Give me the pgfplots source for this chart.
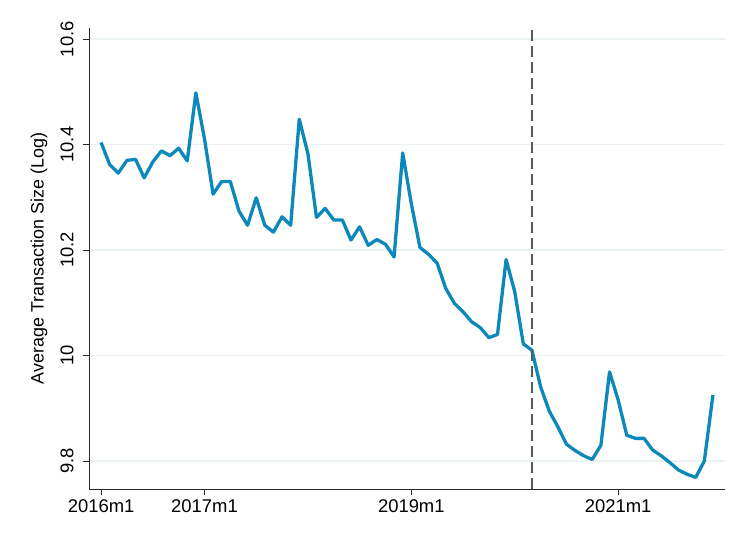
\documentclass[border=0pt]{standalone}
\usepackage{pgfplots}
\pgfplotsset{compat=1.18}
\usepackage{fontspec}
\setmainfont{Liberation Sans}
\definecolor{lineblue}{RGB}{12,136,186}
\definecolor{gridc}{RGB}{234,242,243}
\definecolor{axc}{RGB}{40,40,40}
\begin{document}
\begin{tikzpicture}
\begin{axis}[
  at={(0,0)}, anchor=south west,
  scale only axis,
  width=636bp, height=461bp,
  xmin=-1.4, xmax=72.4,
  ymin=9.747, ymax=10.621,
  axis x line*=bottom, axis y line*=left,
  axis line style={axc, line width=0.9bp, -},
  tick align=outside,
  major tick length=6bp,
  tick style={axc, line width=0.8bp},
  xtick={0,12,36,60},
  xticklabels={2016m1,2017m1,2019m1,2021m1},
  ytick={9.8,10,10.2,10.4,10.6},
  yticklabels={9.8,10,10.2,10.4,10.6},
  yticklabel style={rotate=90, anchor=south},
  yticklabel shift=6bp,
  xticklabel style={anchor=north, yshift=-1bp},
  ymajorgrids,
  grid style={gridc, line width=1.3bp},
  ticklabel style={font=\fontsize{18.5}{21}\selectfont, text=black},
  ylabel={Average Transaction Size (Log)},
  ylabel style={font=\fontsize{18}{21}\selectfont, at={(axis description cs:-0.0715,0.5)}, anchor=base, rotate=0},
  clip=false,
]
\addplot[lineblue, line width=3.3bp, line join=round] table {
x y
0 10.404
1 10.362
2 10.346
3 10.370
4 10.372
5 10.337
6 10.367
7 10.388
8 10.379
9 10.393
10 10.369
11 10.498
12 10.411
13 10.306
14 10.330
15 10.330
16 10.274
17 10.247
18 10.299
19 10.247
20 10.234
21 10.263
22 10.247
23 10.448
24 10.383
25 10.262
26 10.279
27 10.257
28 10.257
29 10.219
30 10.244
31 10.209
32 10.220
33 10.211
34 10.187
35 10.384
36 10.288
37 10.205
38 10.192
39 10.175
40 10.127
41 10.099
42 10.083
43 10.064
44 10.053
45 10.034
46 10.040
47 10.182
48 10.121
49 10.022
50 10.010
51 9.941
52 9.895
53 9.865
54 9.832
55 9.820
56 9.810
57 9.803
58 9.830
59 9.969
60 9.916
61 9.849
62 9.843
63 9.843
64 9.821
65 9.810
66 9.797
67 9.783
68 9.775
69 9.769
70 9.800
71 9.925
};
\addplot[color={rgb,255:red,90;green,90;blue,90}, line width=1.4bp, dash pattern=on 11bp off 5bp] coordinates {(50,9.747) (50,10.621)};
\end{axis}
\pgfresetboundingbox
\path (-89bp,-50bp) rectangle (643bp,489bp);
\end{tikzpicture}
\end{document}
